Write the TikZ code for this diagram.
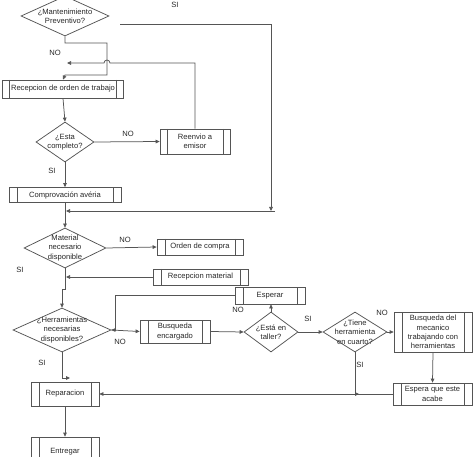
\documentclass[tikz,border=0pt]{standalone}
\usepackage{fontspec}
\setmainfont{Liberation Sans}
\usetikzlibrary{shapes.geometric,arrows.meta}
\definecolor{ln}{RGB}{85,85,85}
\definecolor{tx}{RGB}{40,40,40}
\def\procinset{8pt}
\begin{document}
\begin{tikzpicture}[x=1pt,y=-1pt,
  font=\fontsize{7.6}{9.3}\selectfont, text=tx,
  proc/.style={draw=ln, line width=0.75pt, rectangle, inner sep=0pt, align=center,
    path picture={\draw[ln,line width=0.75pt]
      ([xshift=\procinset]path picture bounding box.north west) -- ([xshift=\procinset]path picture bounding box.south west)
      ([xshift=-\procinset]path picture bounding box.north east) -- ([xshift=-\procinset]path picture bounding box.south east);}},
  dia/.style={draw=ln, line width=0.75pt, diamond, inner sep=0pt},
  dlab/.style={align=center, inner sep=0pt},
  lab/.style={inner sep=0pt},
  arr/.style={draw=ln, line width=0.75pt, -{Triangle[length=4pt,width=3.6pt]}},
  ln/.style={draw=ln, line width=0.75pt}]
\useasboundingbox (0,0) rectangle (474,457);
\fill[white] (0,0) rectangle (474,457);
\clip (0,0) rectangle (474,457);

% decisions
\node[dia, minimum width=88pt, minimum height=40pt, label={[dlab]center:{¿Mantenimiento\\Preventivo?}}] (d1) at (65,16) {};
\node[dia, minimum width=58pt, minimum height=40pt, label={[dlab]center:{¿Esta\\completo?}}] (d2) at (65,142) {};
\node[dia, minimum width=82pt, minimum height=40pt, label={[dlab]center:{Material\\necesario\\disponible}}] (d3) at (65,248) {};
\node[dia, minimum width=98pt, minimum height=44pt, label={[dlab]center:{¿Herramientas\\necesarias\\disponibles?}}] (d4) at (62,330) {};
\node[dia, minimum width=54pt, minimum height=40pt, label={[dlab]center:{¿Está en\\taller?}}] (d5) at (271,332) {};
\node[dia, minimum width=64pt, minimum height=40pt, label={[dlab]center:{¿Tiene\\herramienta\\en cuarto?}}] (d6) at (355,332) {};

% processes
\begingroup\def\procinset{7pt}
\node[proc, minimum width=121pt, minimum height=18pt] (b1) at (63,89) {Recepcion de orden de trabajo};
\node[proc, minimum width=70pt, minimum height=25pt] (b2) at (195,141.5) {Reenvio a\\emisor};
\endgroup
\node[proc, minimum width=112pt, minimum height=15pt] (b3) at (65,195) {Comprovación avéria};
\node[proc, minimum width=86pt, minimum height=16pt] (b4) at (200,247) {Orden de compra};
\node[proc, minimum width=95pt, minimum height=16pt] (b5) at (200.5,277) {Recepcion material};
\node[proc, minimum width=70pt, minimum height=17pt] (b6) at (270,295.5) {Esperar};
\node[proc, minimum width=70pt, minimum height=23pt] (b7) at (175,331.5) {Busqueda\\encargado};
\node[proc, minimum width=78pt, minimum height=40pt] (b8) at (433,332) {Busqueda del\\mecanico\\trabajando con\\herramientas};
\node[proc, minimum width=79pt, minimum height=22pt] (b9) at (432.5,394) {Espera que este\\acabe};
\node[proc, minimum width=68pt, minimum height=24pt] (b10) at (65,394) {Reparacion};
\node[proc, minimum width=68pt, minimum height=30pt] (b11) at (65,452) {Entregar};

% coordinates
\coordinate (s1) at (120,24);
\coordinate (c1) at (271,211);
\coordinate (j1) at (66,211);
\coordinate (n1a) at (107,43);
\coordinate (n1b) at (65,75);
\coordinate (h1) at (110,63);
\coordinate (n2) at (67,63);
\coordinate (j3) at (66,277);
\coordinate (t1) at (65,289);
\coordinate (t2) at (62,289);
\coordinate (k1) at (115,330);
\coordinate (q1) at (359,394);
\coordinate (q2) at (70,378);

% connectors
\draw[arr] (s1) -| (c1);
\draw[arr] ([xshift=4pt]c1) -- (j1);
\draw[arr] (d1.south) |- (n1a) |- (n1b) -- (b1.north);
\draw[arr] (b2.north) |- (h1) arc[start angle=0,end angle=180,radius=3pt] -- (n2);
\draw[arr] (b1.south) -- (d2.north);
\draw[arr] (d2.east) -- (b2.west);
\draw[arr] (d2.south) -- (b3.north);
\draw[arr] (b3.south) -- (d3.north);
\draw[arr] (d3.east) -- (b4.west);
\draw[arr] (b5.west) -- (j3);
\draw[arr] (d3.south) -- (t1) -- (t2) -- (d4.north);
\draw[arr] (b6.west) -| (k1) -- (d4.east);
\draw[arr] (d4.east) -- (b7.west);
\draw[arr] (b7.east) -- (d5.west);
\draw[arr] (d5.north) -- (d5.north |- b6.south);
\draw[arr] (d5.east) -- (d6.west);
\draw[arr] (d6.east) -- (b8.west);
\draw[arr] (b8.south) -- (b9.north);
\draw[arr] (b9.west) -- (b10.east);
\draw[arr] (d6.south) |- (q1);
\draw[arr] (d4.south) |- (q2);
\draw[arr] (b10.south) -- (b11.north);

% branch labels
\node[lab] (l1) at (175,5) {SI};
\node[lab] (l2) at (55,53) {NO};
\node[lab] (l3) at (128,134) {NO};
\node[lab] (l4) at (52,171) {SI};
\node[lab] (l5) at (125,240) {NO};
\node[lab] (l6) at (20,270) {SI};
\node[lab] (l7) at (120,342) {NO};
\node[lab] (l8) at (238,310) {NO};
\node[lab] (l9) at (308,319) {SI};
\node[lab] (l10) at (382,313) {NO};
\node[lab] (l11) at (360,365) {SI};
\node[lab] (l12) at (42,363) {SI};
\end{tikzpicture}
\end{document}
